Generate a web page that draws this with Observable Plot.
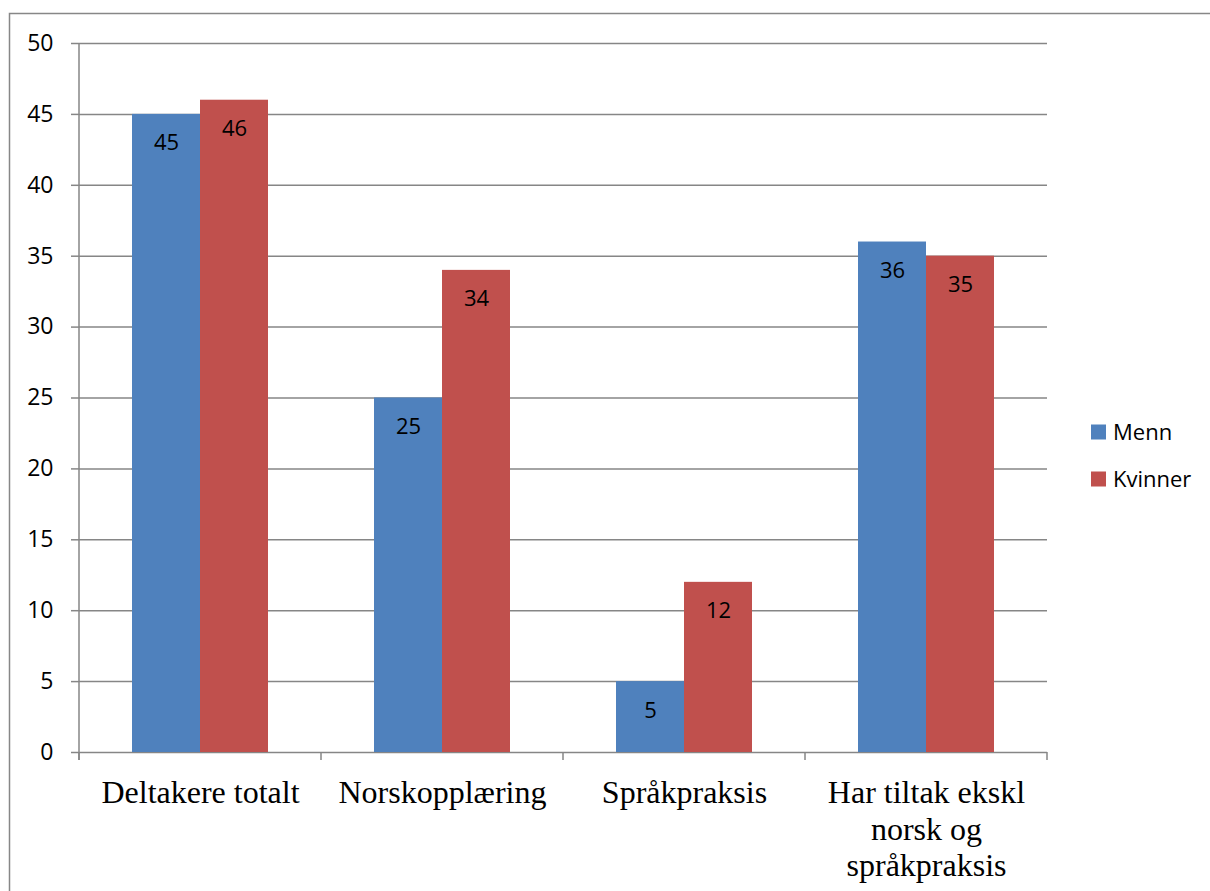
<!DOCTYPE html>
<html>
<head>
<meta charset="utf-8">
<script src="https://cdn.jsdelivr.net/npm/d3@7"></script>
<script src="https://cdn.jsdelivr.net/npm/@observablehq/plot@0.6"></script>
<style>
  html, body { margin: 0; padding: 0; background: #fff; }
  #chart { width: 1210px; height: 891px; overflow: hidden; }
</style>
</head>
<body>
<div id="chart"></div>
<script>
const categories = ["Deltakere totalt", "Norskopplæring", "Språkpraksis", "Har tiltak ekskl\nnorsk og\nspråkpraksis"];
const series = ["Menn", "Kvinner"];
const menn = [45, 25, 5, 36];
const kvinner = [46, 34, 12, 35];
const colors = ["#4F81BD", "#C0504D"];
const yTicks = [0, 5, 10, 15, 20, 25, 30, 35, 40, 45, 50];

const data = [];
categories.forEach((c, i) => {
  data.push({category: c, series: "Menn", value: menn[i]});
  data.push({category: c, series: "Kvinner", value: kvinner[i]});
});

const gray = "#868686";
const sans = "'Open Sans', sans-serif";
const serif = "'Liberation Serif', 'Times New Roman', serif";

const chart = Plot.plot({
  width: 1210,
  height: 891,
  marginLeft: 78,
  marginRight: 162,
  marginTop: 43,
  marginBottom: 139,
  style: {background: "#fff", fontFamily: sans},
  fx: {domain: categories, padding: 0, label: null},
  x: {domain: series, paddingInner: 0, paddingOuter: 0.77, axis: null},
  y: {domain: [0, 50], label: null},
  color: {domain: series, range: colors},
  marks: [
    Plot.gridY(yTicks, {stroke: gray, strokeOpacity: 1, strokeWidth: 1.5}),
    Plot.barY(data, {fx: "category", x: "series", y: "value", fill: "series"}),
    Plot.text(data, {fx: "category", x: "series", y: "value", text: d => String(d.value), dy: 29, fontSize: 22, fontFamily: sans, fill: "#000"}),
    Plot.axisY(yTicks, {tickSize: 8, tickPadding: 18, stroke: gray, strokeWidth: 1.5, fontSize: 23, fontFamily: sans, fill: "#000", label: null}),
    Plot.axisFx({anchor: "bottom", tickSize: 0, tickPadding: 25, fontSize: 32, fontFamily: serif, lineHeight: 1.14, fill: "#000", label: null}),
  ]
});

document.getElementById("chart").appendChild(chart);

const svg = d3.select(chart);
const fx = chart.scale("fx");
const y = chart.scale("y");
const y0 = y.apply(0), yTop = y.apply(50);
const left0 = fx.apply(categories[0]);
const bounds = categories.map(c => fx.apply(c));
bounds.push(fx.apply(categories[categories.length - 1]) + fx.bandwidth);
const g = svg.append("g").attr("stroke", gray).attr("stroke-width", 1.5);
// y-axis line
g.append("line").attr("x1", left0).attr("x2", left0).attr("y1", yTop).attr("y2", y0 + 8);
// category boundary ticks
bounds.forEach(b => {
  g.append("line").attr("x1", b).attr("x2", b).attr("y1", y0).attr("y2", y0 + 8);
});
// outer chart border
svg.append("path").attr("d", "M9.5,900V13.5H1212").attr("fill", "none").attr("stroke", "#878787").attr("stroke-width", 1.5);

// legend
const color = chart.scale("color");
const legendY = [432, 479];
series.forEach((s, i) => {
  const lg = svg.append("g");
  lg.append("rect").attr("x", 1091).attr("y", legendY[i] - 7.5).attr("width", 15).attr("height", 15).attr("fill", color.apply(s));
  lg.append("text").attr("x", 1113).attr("y", legendY[i]).attr("dy", "0.35em")
    .attr("text-anchor", "start")
    .attr("font-family", sans).attr("font-size", 22).attr("fill", "#000").text(s);
});
</script>
</body>
</html>
